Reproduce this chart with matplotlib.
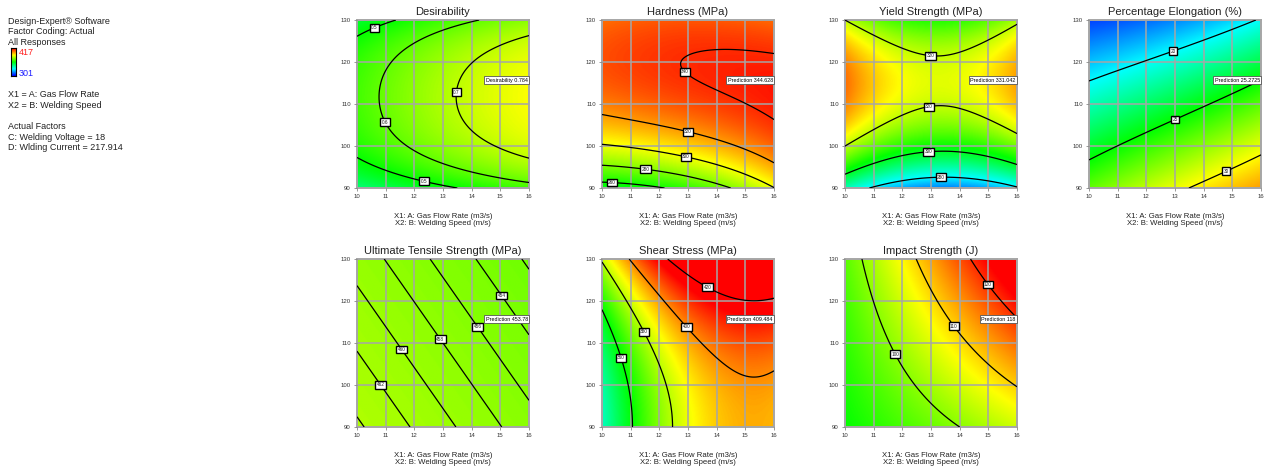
import numpy as np
import matplotlib
matplotlib.use("Agg")
from matplotlib import pyplot as plt
from matplotlib.colors import LinearSegmentedColormap
from numpy.polynomial import polynomial as P

# coded factors: a = (A - 13) / 3, b = (B - 110) / 20
# coef[i][j] multiplies a**i * b**j  (estimated from the contour plots)
desir_coef = [[0.6843, 0.0159, -0.0955, 0.0226, -0.0666],
              [0.101, 0, 0, 0, 0],
              [-0.0178, 0, 0, 0, 0]]
hard_coef = [[333.69, 29.68, -34.58, 3.72],
             [9.105, -11.64, 2.965, 0],
             [0.235, -7.13, 2.815, 0]]
yield_coef = [[320.51, 17.8, -32.5],
              [-2.7, 1.6, 0],
              [13.05, 0, 0]]
elong_coef = [[23.91, -5.96, -0.269],
              [2.645, -0.292, -0.43],
              [0.165, 0.412, 0]]
uts_coef = [[458.0, -2.5625],
            [-3.75, 0]]
shear_coef = [[396.1, 21.0, 10.5],
              [27.9, 0, 0],
              [-18.2, 0, 0]]
impact_coef = [[105.32, 7.4],
               [11.04, 4.8]]

titles = ["Desirability", "Hardness (MPa)", "Yield Strength (MPa)", "Percentage Elongation (%)",
          "Ultimate Tensile Strength (MPa)", "Shear Stress (MPa)", "Impact Strength (J)"]
levels = [[0.5, 0.6, 0.7], [260, 280, 300, 320, 340], [280, 300, 320], [20, 25, 30],
          [452, 454, 456, 458, 460, 462, 464], [360, 380, 400, 420], [100, 110, 120]]
label_fmt = ["%.1f", "%d", "%d", "%d", "%d", "%d", "%d"]
flags = ["Desirability 0.784", "Prediction 344.628", "Prediction 331.042", "Prediction 25.2725",
         "Prediction 453.78", "Prediction 409.484", "Prediction 118"]
color_range = [(-0.06, 1.05), (165, 348), (258, 348), (15, 35), (330, 530), (305, 415), (60, 123)]
coefs = [desir_coef, hard_coef, yield_coef, elong_coef, uts_coef, shear_coef, impact_coef]

# where the little value boxes sit on the contours
label_pos = [
    [(10.56, 129), (11.02, 105.8), (13.45, 112.8), (12.38, 92.9)],
    [(12.8, 117), (13, 103.3), (12.9, 96.6), (11.5, 93.4), (10.35, 91.3)],
    [(13, 123), (12.9, 110.3), (12.9, 99.3), (13.35, 93.0)],
    [(12.9, 123.2), (13, 106.4), (14.75, 94.6)],
    [(10.8, 100), (11.5, 108.2), (12.9, 110.8), (14.2, 113.8), (15.1, 121.6)],
    [(10.7, 106.6), (11.5, 112.8), (13, 114.2), (13.75, 124.2)],
    [(11.65, 107), (13.85, 114.3), (15.0, 124.0)],
]

gas_flow = np.linspace(10, 16, 241)
speed = np.linspace(90, 130, 241)

cmap = LinearSegmentedColormap.from_list("de", ["#0000ff", "#00ffff", "#00ff00", "#ffff00", "#ff0000"])

W, H = 1265, 472
fig = plt.figure(figsize=(W / 100, H / 100), dpi=100)
plt.rcParams['font.family'] = ['Liberation Sans', 'DejaVu Sans']

# axes boxes in pixels: left, top
boxes = [(357, 20), (602, 20), (845, 20), (1089, 20), (357, 259), (602, 259), (845, 259)]
aw, ah = 172, 168

A, B = np.meshgrid(gas_flow, speed)
ca = (A - 13) / 3
cb = (B - 110) / 20

for k in range(7):
    left, top = boxes[k]
    ax = fig.add_axes([left / W, 1 - (top + ah) / H, aw / W, ah / H])
    Z = P.polyval2d(ca, cb, np.array(coefs[k]))
    vmin, vmax = color_range[k]
    ax.imshow(Z, origin="lower", extent=[10, 16, 90, 130], aspect="auto", cmap=cmap,
              vmin=vmin, vmax=vmax, interpolation="bilinear", zorder=0)
    cs = ax.contour(A, B, Z, levels=levels[k], colors="black", linewidths=0.9, zorder=3)
    txts = ax.clabel(cs, fmt=label_fmt[k], fontsize=3.4, inline=False, manual=label_pos[k])
    for t in txts:
        t.set_rotation(0)
        t.set_color("#222222")
        t.set_bbox(dict(boxstyle="square,pad=0.3", fc="white", ec="black", lw=1.0))
        t.set_zorder(5)
    ax.text(15.96, 115.7, flags[k], fontsize=3.9, ha="right", va="center", zorder=6,
            bbox=dict(boxstyle="square,pad=0.3", fc="white", ec="#555555", lw=0.6))
    ax.set_xlim(10, 16)
    ax.set_ylim(90, 130)
    ax.set_xticks(range(10, 17))
    ax.set_yticks(range(90, 131, 10))
    ax.set_axisbelow(False)
    ax.grid(color="#a6a6a6", lw=1.1)
    for s in ax.spines.values():
        s.set_color("#a6a6a6")
        s.set_linewidth(1.4)
    ax.tick_params(labelsize=4.3, length=2.5, width=0.6, color="#888888", labelcolor="#333333", pad=2)
    ax.set_title(titles[k], fontsize=8, pad=3.5, color="#222222")
    ax.text(0.5, -0.19, "X1: A: Gas Flow Rate (m3/s)\nX2: B: Welding Speed (m/s)", transform=ax.transAxes,
            ha="center", va="center", fontsize=5.6, linespacing=1.05, color="#222222")

# info panel on the left
info_top = ["Design-Expert\u00ae Software", "Factor Coding: Actual", "All Responses"]
for i, s in enumerate(info_top):
    fig.text(8 / W, 1 - (21 + 10.6 * i) / H, s, fontsize=6.5, va="center", color="#222222")
cax = fig.add_axes([11 / W, 1 - 76 / H, 5 / W, 28 / H])
cax.imshow(np.linspace(0, 1, 60)[:, None], origin="lower", aspect="auto", cmap=cmap)
cax.set_xticks([])
cax.set_yticks([])
for s in cax.spines.values():
    s.set_linewidth(0.8)
fig.text(19 / W, 1 - 52.5 / H, "417", fontsize=6.5, va="center", color="#ff2020")
fig.text(19 / W, 1 - 73 / H, "301", fontsize=6.5, va="center", color="#2020ff")
info_bottom = [(94.3, "X1 = A: Gas Flow Rate"), (105.3, "X2 = B: Welding Speed"),
               (126.5, "Actual Factors"), (137, "C: Welding Voltage = 18"),
               (147.5, "D: Wlding Current = 217.914")]
for y, s in info_bottom:
    fig.text(8 / W, 1 - y / H, s, fontsize=6.5, va="center", color="#222222")

fig.savefig("out.png", dpi=100)
